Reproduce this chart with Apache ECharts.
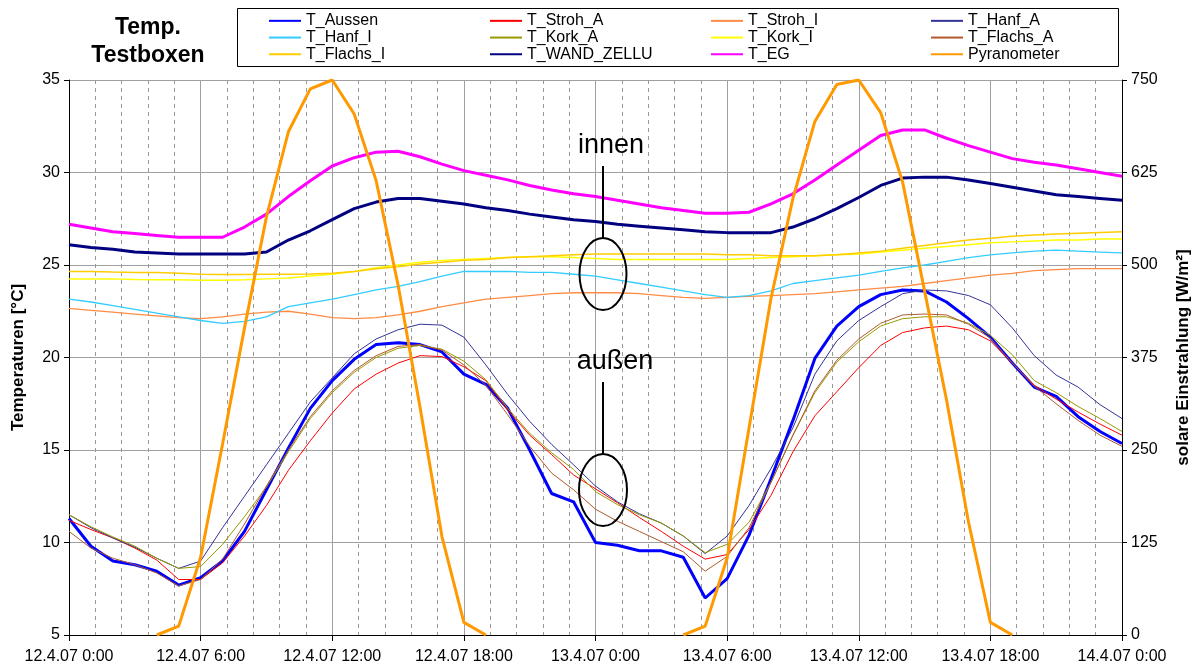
<!DOCTYPE html>
<html>
<head>
<meta charset="utf-8">
<script src="https://cdn.jsdelivr.net/npm/echarts@6/dist/echarts.min.js"></script>
<style>
  html, body { margin: 0; padding: 0; background: #fff; }
  #chart { width: 1195px; height: 670px; }
</style>
</head>
<body>
<div id="chart"></div>
<script>
// Hours since 12.4.07 0:00, one reading per hour
const hours = [0, 1, 2, 3, 4, 5, 6, 7, 8, 9, 10, 11, 12, 13, 14, 15, 16, 17, 18, 19, 20, 21, 22, 23, 24,
  25, 26, 27, 28, 29, 30, 31, 32, 33, 34, 35, 36, 37, 38, 39, 40, 41, 42, 43, 44, 45, 46, 47, 48];

// outside ("außen") temperatures, °C
const tAussen = [11.3, 9.8, 9.0, 8.8, 8.45, 7.7, 8.1, 9.0, 10.6, 12.85, 15.1, 17.25, 18.75, 19.9, 20.7, 20.8, 20.7, 20.3, 19.1, 18.55,
  17.25, 15.0, 12.65, 12.2, 10.0, 9.85, 9.55, 9.55, 9.2, 7.0, 8.05, 10.4, 13.45, 16.6, 19.95, 21.7, 22.75, 23.4, 23.65, 23.6,
  23.0, 22.1, 21.1, 19.7, 18.4, 17.9, 16.8, 16.0, 15.35];
const tStrohA = [11.2, 10.7, 10.25, 9.7, 9.05, 8.0, 8.0, 8.9, 10.35, 12.0, 13.9, 15.5, 17.0, 18.3, 19.1, 19.7, 20.1, 20.05, 19.5, 18.75,
  17.15, 15.8, 14.75, 13.65, 12.9, 12.15, 11.35, 10.6, 9.8, 9.1, 9.35, 10.7, 12.55, 14.9, 16.85, 18.15, 19.45, 20.65, 21.35, 21.6,
  21.7, 21.5, 20.9, 19.7, 18.5, 17.75, 17.05, 16.4, 15.8];
const tHanfA = [11.5, 10.8, 10.25, 9.75, 9.15, 8.6, 9.0, 10.8, 12.5, 14.2, 15.9, 17.6, 18.9, 20.2, 21.0, 21.5, 21.8, 21.75, 21.1, 19.6,
  18.0, 16.55, 15.3, 14.2, 13.05, 12.2, 11.55, 11.05, 10.35, 9.4, 10.35, 12.0, 14.0, 16.2, 19.1, 20.9, 22.0, 22.75, 23.45, 23.65,
  23.6, 23.35, 22.85, 21.6, 20.1, 19.05, 18.4, 17.45, 16.7];
const tKorkA = [11.5, 10.85, 10.3, 9.8, 9.15, 8.6, 8.7, 9.9, 11.4, 13.0, 14.9, 16.7, 18.1, 19.2, 20.0, 20.5, 20.65, 20.45, 19.8, 18.8,
  17.25, 15.9, 14.85, 13.95, 12.75, 12.05, 11.5, 11.05, 10.35, 9.45, 9.9, 11.1, 13.25, 15.8, 18.1, 19.75, 20.85, 21.7, 22.1, 22.2,
  22.2, 21.85, 21.2, 20.15, 18.75, 18.1, 17.35, 16.7, 16.0];
const tFlachsA = [10.6, 9.7, 9.15, 8.8, 8.35, 7.65, 8.0, 9.1, 11.0, 13.05, 15.0, 16.8, 18.2, 19.3, 20.1, 20.6, 20.7, 20.4, 19.6, 18.5,
  16.9, 15.2, 13.75, 12.85, 11.8, 11.15, 10.6, 10.05, 9.5, 8.45, 9.25, 10.8, 13.25, 15.8, 18.2, 19.85, 21.0, 21.85, 22.3, 22.35,
  22.3, 21.8, 21.05, 19.7, 18.45, 17.5, 16.6, 15.8, 15.2];

// inside ("innen") temperatures, °C
const tStrohI = [22.65, 22.55, 22.45, 22.35, 22.25, 22.15, 22.1, 22.2, 22.35, 22.45, 22.5, 22.35, 22.15, 22.1, 22.15, 22.3, 22.5, 22.75, 22.95, 23.15,
  23.25, 23.35, 23.45, 23.5, 23.5, 23.5, 23.45, 23.35, 23.25, 23.2, 23.25, 23.3, 23.35, 23.4, 23.45, 23.55, 23.65, 23.75, 23.85, 24.0,
  24.15, 24.3, 24.45, 24.55, 24.7, 24.75, 24.8, 24.8, 24.8];
const tHanfI = [23.15, 23.0, 22.8, 22.6, 22.4, 22.2, 22.0, 21.85, 21.95, 22.2, 22.75, 22.95, 23.15, 23.4, 23.65, 23.85, 24.1, 24.4, 24.65, 24.65,
  24.65, 24.6, 24.6, 24.5, 24.4, 24.2, 24.0, 23.8, 23.6, 23.4, 23.25, 23.35, 23.6, 24.0, 24.15, 24.3, 24.45, 24.65, 24.85, 25.0,
  25.2, 25.4, 25.55, 25.65, 25.75, 25.8, 25.75, 25.7, 25.65];
const tKorkI = [24.25, 24.25, 24.25, 24.22, 24.2, 24.2, 24.18, 24.18, 24.2, 24.25, 24.3, 24.4, 24.5, 24.65, 24.85, 25.0, 25.15, 25.25, 25.3, 25.35,
  25.4, 25.45, 25.45, 25.4, 25.35, 25.3, 25.3, 25.3, 25.3, 25.3, 25.3, 25.35, 25.4, 25.45, 25.5, 25.55, 25.6, 25.7, 25.8, 25.9,
  26.0, 26.1, 26.2, 26.25, 26.3, 26.35, 26.35, 26.4, 26.4];
const tFlachsI = [24.65, 24.65, 24.62, 24.6, 24.6, 24.55, 24.5, 24.48, 24.48, 24.5, 24.5, 24.52, 24.55, 24.65, 24.8, 24.9, 25.05, 25.15, 25.25, 25.3,
  25.4, 25.45, 25.5, 25.55, 25.6, 25.6, 25.6, 25.6, 25.6, 25.6, 25.55, 25.55, 25.5, 25.5, 25.5, 25.55, 25.65, 25.75, 25.9, 26.05,
  26.2, 26.35, 26.45, 26.55, 26.62, 26.68, 26.72, 26.76, 26.8];
const tWandZellu = [26.1, 25.95, 25.85, 25.7, 25.65, 25.6, 25.6, 25.6, 25.6, 25.7, 26.35, 26.85, 27.45, 28.05, 28.4, 28.6, 28.6, 28.45, 28.3, 28.1,
  27.95, 27.75, 27.6, 27.45, 27.35, 27.2, 27.1, 27.0, 26.9, 26.8, 26.75, 26.75, 26.75, 27.05, 27.5, 28.05, 28.65, 29.3, 29.7, 29.75,
  29.75, 29.6, 29.4, 29.2, 29.0, 28.8, 28.7, 28.6, 28.5];
const tEG = [27.2, 27.0, 26.8, 26.7, 26.6, 26.5, 26.5, 26.5, 27.05, 27.75, 28.7, 29.55, 30.35, 30.8, 31.1, 31.15, 30.85, 30.45, 30.1, 29.85,
  29.6, 29.3, 29.05, 28.85, 28.7, 28.5, 28.3, 28.1, 27.95, 27.8, 27.8, 27.85, 28.3, 28.85, 29.6, 30.4, 31.2, 32.0, 32.3, 32.3,
  31.85, 31.45, 31.1, 30.75, 30.55, 30.4, 30.2, 30.0, 29.8];

// solar irradiance, W/m² (no reading drawn at night)
const pyranometer = [null, null, null, null, 0, 12, 105, 258, 415, 565, 680, 738, 750, 704, 614, 473, 308, 133, 17, 0,
  null, null, null, null, null, null, null, null, 0, 12, 104, 280, 455, 590, 694, 744, 750, 706, 612, 465,
  318, 153, 17, 0, null, null, null, null, null];

const tempTicks = [5, 35, 5];      // min, max, step (left axis)
const solarTicks = [0, 750, 125];  // min, max, step (right axis)

// legend is laid out in four columns of three, like the Excel legend box
const legendCols = [
  ['T_Aussen', 'T_Hanf_I', 'T_Flachs_I'],
  ['T_Stroh_A', 'T_Kork_A', 'T_WAND_ZELLU'],
  ['T_Stroh_I', 'T_Kork_I', 'T_EG'],
  ['T_Hanf_A', 'T_Flachs_A', 'Pyranometer'],
];
const legendLeft = [268, 489, 710, 930];

const FONT = 'Liberation Sans, Arial, sans-serif';
const pair = (vals) => hours.map((h, i) => [h, vals[i]]);
const line = (name, vals, color, width, axis = 0) => ({
  name, type: 'line', yAxisIndex: axis, data: pair(vals), symbol: 'none',
  lineStyle: { color, width }, itemStyle: { color }, emphasis: { disabled: true },
});

const series = [
  line('T_Aussen', tAussen, '#0000ff', 3),
  line('T_Stroh_A', tStrohA, '#ff0000', 1),
  line('T_Stroh_I', tStrohI, '#ff8c45', 1.3),
  line('T_Hanf_A', tHanfA, '#333399', 1),
  line('T_Hanf_I', tHanfI, '#33ccff', 1.3),
  line('T_Kork_A', tKorkA, '#999900', 1),
  line('T_Kork_I', tKorkI, '#ffff00', 1.5),
  line('T_Flachs_A', tFlachsA, '#b05a2c', 1),
  line('T_Flachs_I', tFlachsI, '#ffcc00', 1.5),
  line('T_WAND_ZELLU', tWandZellu, '#000080', 3),
  line('T_EG', tEG, '#ff00ff', 3),
  line('Pyranometer', pyranometer, '#ff9900', 3, 1),
];

const axisText = { fontFamily: FONT, fontSize: 16, color: '#000' };
const nameText = { fontFamily: FONT, fontSize: 17, fontWeight: 'bold', color: '#000' };
const black = { color: '#000', width: 1 };
const grey = { color: '#a0a0a0', width: 1 };

const option = {
  animation: false,
  backgroundColor: '#fff',
  grid: { left: 69, right: 73, top: 80, bottom: 35, containLabel: false, outerBoundsMode: 'none' },
  legend: legendCols.map((data, i) => ({
    data, orient: 'vertical', left: legendLeft[i], top: 12.5, padding: 0,
    itemWidth: 32, itemHeight: 12, itemGap: 0, selectedMode: false,
    itemStyle: { opacity: 0 },   // line only, no marker in the legend
    textStyle: { fontFamily: FONT, fontSize: 16, color: '#000', lineHeight: 16.7 },
  })),
  xAxis: {
    type: 'value', min: 0, max: 48, interval: 6,
    axisLine: { show: true, onZero: false, lineStyle: black },
    axisTick: { show: true, length: 6, lineStyle: black },
    minorTick: { show: false, splitNumber: 5 },
    splitLine: { show: true, lineStyle: grey },
    minorSplitLine: { show: true, lineStyle: { color: '#999', width: 1, type: [4, 4] } },
    axisLabel: {
      ...axisText, margin: 14, showMinLabel: true, showMaxLabel: true,
      formatter: (h) => `${12 + Math.floor(h / 24)}.4.07 ${h % 24}:00`,
    },
  },
  yAxis: [
    {
      type: 'value', position: 'left', min: tempTicks[0], max: tempTicks[1], interval: tempTicks[2],
      axisLine: { show: true, lineStyle: black },
      axisTick: { show: true, length: 5, lineStyle: black },
      splitLine: { show: true, lineStyle: grey },
      axisLabel: { ...axisText, margin: 9 },
      name: 'Temperaturen [°C]', nameLocation: 'middle', nameRotate: 90, nameGap: 42, nameTextStyle: nameText,
    },
    {
      type: 'value', position: 'right', min: solarTicks[0], max: solarTicks[1], interval: solarTicks[2],
      axisLine: { show: true, lineStyle: black },
      axisTick: { show: true, length: 5, lineStyle: black },
      splitLine: { show: false },
      axisLabel: { ...axisText, margin: 9 },
      name: 'solare Einstrahlung [W/m²]', nameLocation: 'middle', nameRotate: 90, nameGap: 53, nameTextStyle: nameText,
    },
  ],
  graphic: [
    { type: 'rect', z: 100, shape: { x: 237.5, y: 8.5, width: 881, height: 58 }, style: { fill: 'none', stroke: '#000', lineWidth: 1 } },
    { type: 'text', z: 100, x: 148, y: 28, style: { text: 'Temp.', font: `bold 23px ${FONT}`, fill: '#000', align: 'center', verticalAlign: 'middle' } },
    { type: 'text', z: 100, x: 148, y: 56, style: { text: 'Testboxen', font: `bold 23px ${FONT}`, fill: '#000', align: 'center', verticalAlign: 'middle' } },
    // annotations: inner and outer temperature groups
    { type: 'text', z: 100, x: 611, y: 145.5, style: { text: 'innen', font: `27px ${FONT}`, fill: '#000', align: 'center', verticalAlign: 'middle' } },
    { type: 'line', z: 100, shape: { x1: 603, y1: 166, x2: 603, y2: 238 }, style: { stroke: '#000', lineWidth: 2 } },
    { type: 'ellipse', z: 100, shape: { cx: 603, cy: 274, rx: 23.5, ry: 36 }, style: { fill: 'none', stroke: '#000', lineWidth: 2 } },
    { type: 'text', z: 100, x: 615, y: 362, style: { text: 'außen', font: `27px ${FONT}`, fill: '#000', align: 'center', verticalAlign: 'middle' } },
    { type: 'line', z: 100, shape: { x1: 603, y1: 382, x2: 603, y2: 454 }, style: { stroke: '#000', lineWidth: 2 } },
    { type: 'ellipse', z: 100, shape: { cx: 603, cy: 490, rx: 24, ry: 36 }, style: { fill: 'none', stroke: '#000', lineWidth: 2 } },
  ],
  series,
};

const chart = echarts.init(document.getElementById('chart'), null, { renderer: 'canvas' });
chart.setOption(option);
</script>
</body>
</html>
